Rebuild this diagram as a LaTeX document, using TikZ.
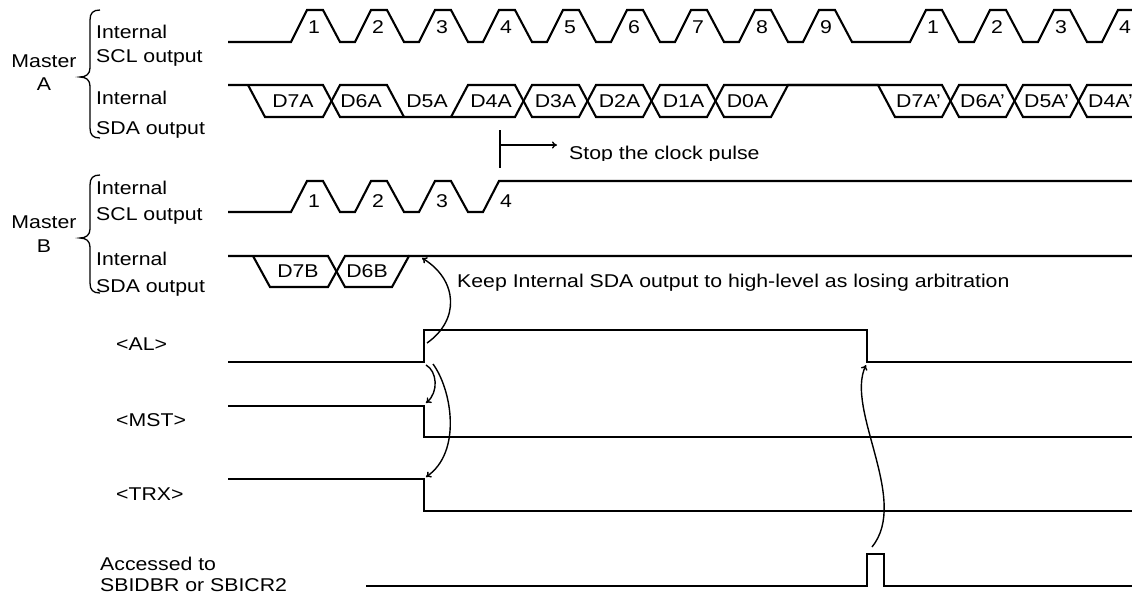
\documentclass[tikz,border=0pt]{standalone}
\usepackage{fontspec}
\setmainfont{Liberation Sans}[FakeStretch=1.15]
\usetikzlibrary{arrows.meta}
\begin{document}
\begin{tikzpicture}[x=1pt,y=-1pt,
  font=\fontsize{18.5}{22}\selectfont,
  sig/.style={line width=2.1pt, line join=miter},
  thinln/.style={line width=1.3pt},
  curvarrow/.style={line width=1.4pt, -{To[length=5pt,width=7pt]}},
  lab/.style={anchor=base west, inner sep=0pt},
  ctr/.style={anchor=base, inner sep=0pt},
  bracestyle/.style={line width=1.3pt}]
\useasboundingbox (0,0) rectangle (1132,595);

% ---------- left labels ----------
\node[ctr] (mA1) at (44,67) {Master};
\node[ctr] (mA2) at (44,90) {A};
\node[ctr] (mB1) at (44,228) {Master};
\node[ctr] (mB2) at (44,252) {B};
\node[lab] (a1) at (96,38) {Internal};
\node[lab] (a2) at (96,62) {SCL output};
\node[lab] (a3) at (96,104) {Internal};
\node[lab] (a4) at (96,134) {SDA output};
\node[lab] (b1) at (96,194) {Internal};
\node[lab] (b2) at (96,220) {SCL output};
\node[lab] (b3) at (96,265) {Internal};
\node[lab] (b4) at (96,292) {SDA output};
\node[lab] (al) at (116,350) {<AL>};
\node[lab] (mst) at (116,426) {<MST>};
\node[lab] (trx) at (116,500) {<TRX>};
\node[lab] (acc1) at (100,570) {Accessed to};
\node[lab] (acc2) at (100,591) {SBIDBR or SBICR2};

% braces
\draw[bracestyle] (100,10) .. controls (93,10) and (90,13) .. (90,20) -- (90,68)
  .. controls (90,74) and (86,77) .. (80,77) .. controls (86,77) and (90,80) .. (90,86)
  -- (90,128) .. controls (90,135) and (93,138) .. (100,138);
\draw[bracestyle] (100,175) .. controls (93,175) and (90,178) .. (90,185) -- (90,229)
  .. controls (90,235) and (86,238) .. (80,238) .. controls (86,238) and (90,241) .. (90,247)
  -- (90,283) .. controls (90,290) and (93,293) .. (100,293);

% ---------- Master A SCL ----------
\draw[sig] (228,42)
  \foreach \k in {0,...,8}{ -- ({291+64*\k},42) -- ({307+64*\k},10) -- ({323+64*\k},10) -- ({340+64*\k},42) }
  -- (910,42)
  \foreach \k in {0,1,2}{ -- ({910+64*\k},42) -- ({926+64*\k},10) -- ({942+64*\k},10) -- ({959+64*\k},42) }
  -- (1102,42) -- (1118,10) -- (1132,10);
\foreach \k/\n in {0/1,1/2,2/3,3/4,4/5,5/6,6/7,7/8,8/9}
  \node[ctr] (na\k) at ({314+64*\k},33) {\n};
\foreach \k/\n in {0/1,1/2,2/3,3/4}
  \node[ctr] (nc\k) at ({933+64*\k},33) {\n};

% ---------- Master A SDA ----------
\draw[sig] (228,85)--(323,85)--(340,117)--(515,117)--(532,85)--(579,85)--(596,117)--(643,117)
  --(660,85)--(707,85)--(724,117)--(771,117)--(788,85)--(942,85)--(959,117)--(1006,117)
  --(1023,85)--(1070,85)--(1087,117)--(1132,117);
\draw[sig] (248,85)--(265,117)--(323,117)--(340,85)--(387,85)--(404,117);
\draw[sig] (451,117)--(468,85)--(515,85)--(532,117)--(579,117)--(596,85)--(643,85)--(660,117)
  --(707,117)--(724,85)--(878,85)--(895,117)--(942,117)--(959,85)--(1006,85)--(1023,117)
  --(1070,117)--(1087,85)--(1132,85);
\node[ctr] (d7a) at (293,107) {D7A};
\node[ctr] (d6a) at (361,107) {D6A};
\node[ctr] (d5a) at (427,107) {D5A};
\node[ctr] (d4a) at (491,107) {D4A};
\node[ctr] (d3a) at (555.5,107) {D3A};
\node[ctr] (d2a) at (619.5,107) {D2A};
\node[ctr] (d1a) at (683.5,107) {D1A};
\node[ctr] (d0a) at (747.5,107) {D0A};
\node[ctr] (d7ap) at (918.5,107) {D7A’};
\node[ctr] (d6ap) at (982.5,107) {D6A’};
\node[ctr] (d5ap) at (1046.5,107) {D5A’};
\node[ctr] (d4ap) at (1110.5,107) {D4A’};

% ---------- stop the clock ----------
\coordinate (stopA) at (500,145);
\coordinate (stopB) at (557,145);
\draw[thinln] (500,130) -- (500,168);
\draw[thinln, -{To[length=5pt,width=7pt]}] (stopA) -- (stopB);
\begin{scope}
  \clip (560,125) rectangle (900,160);
  \node[lab] (stop) at (569,159) {Stop the clock pulse};
\end{scope}

% ---------- Master B SCL ----------
\draw[sig] (228,212)
  \foreach \k in {0,1,2}{ -- ({291+64*\k},212) -- ({307+64*\k},181) -- ({323+64*\k},181) -- ({340+64*\k},212) }
  -- (483,212) -- (499,181) -- (1132,181);
\foreach \k/\n in {0/1,1/2,2/3,3/4}
  \node[ctr] (nb\k) at ({314+64*\k},207) {\n};

% ---------- Master B SDA ----------
\draw[sig] (228,256)--(328,256)--(345,287)--(392,287)--(409,256)--(1132,256);
\draw[sig] (253,256)--(270,287)--(328,287)--(345,256)--(409,256);
\node[ctr] (d7b) at (298,277) {D7B};
\node[ctr] (d6b) at (367,277) {D6B};
\node[lab] (keep) at (457,287) {Keep Internal SDA output to high-level as losing arbitration};

% ---------- AL / MST / TRX / access ----------
\draw[sig] (228,362) -- (424,362) -- (424,330) -- (867,330) -- (867,362) -- (1132,362);
\draw[sig] (228,406) -- (424,406) -- (424,437) -- (1132,437);
\draw[sig] (228,479) -- (424,479) -- (424,511) -- (1132,511);
\draw[sig] (366,586) -- (867,586) -- (867,554) -- (884,554) -- (884,586) -- (1132,586);

% ---------- curved arrows ----------
\coordinate (alup) at (427,343);
\coordinate (sdab) at (422,258);
\coordinate (aldn1) at (426,365);
\coordinate (mstc) at (426,403);
\coordinate (aldn2) at (433,364);
\coordinate (trxc) at (426,477);
\coordinate (pulse) at (872,547);
\coordinate (alfall) at (866,365);
\draw[curvarrow] (alup) .. controls (460,320) and (458,280) .. (sdab);
\draw[curvarrow] (aldn1) .. controls (437,371) and (439,392) .. (mstc);
\draw[curvarrow] (aldn2) .. controls (452,390) and (462,452) .. (trxc);
\draw[curvarrow] (pulse) .. controls (910,500) and (845,410) .. (alfall);
\end{tikzpicture}
\end{document}
